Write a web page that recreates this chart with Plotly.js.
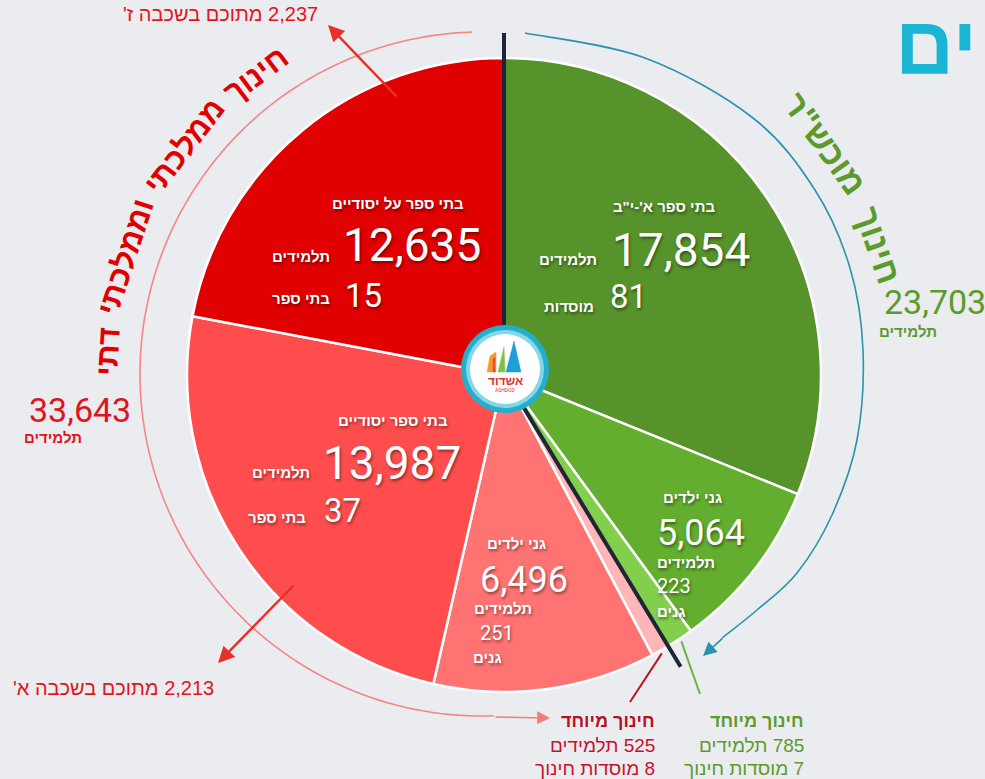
<!DOCTYPE html>
<html><head><meta charset="utf-8">
<script src="https://cdn.plot.ly/plotly-3.0.1.min.js"></script>
<style>html,body{margin:0;padding:0;background:#EBECF0;overflow:hidden}#chart{width:985px;height:779px}</style>
</head><body><div id="chart"></div>
<script>
// ---------------- DATA ----------------
const categories = ["בתי ספר א'-י\"ב", "גני ילדים", "חינוך מיוחד", "חינוך מיוחד", "גני ילדים", "בתי ספר יסודיים", "בתי ספר על יסודיים"];
const students = [17854, 5064, 785, 525, 6496, 13987, 12635];
const institutions = [81, 223, 7, 8, 251, 37, 15];
const institutionLabels = ["מוסדות", "גנים", "מוסדות חינוך", "מוסדות חינוך", "גנים", "בתי ספר", "בתי ספר"];
const sectorNames = ["חינוך מוכש\"ר", "חינוך ממלכתי וממלכתי דתי"];
const sectorMembers = [[0, 1, 2], [3, 4, 5, 6]];
const gradeCounts = [2237, 2213];
const gradeNames = ["ז'", "א'"];
const studentsWord = "תלמידים";

// ---------------- STYLE ----------------
const sliceColors = ["#56932A", "#63AD2F", "#82CF4C", "#FFB6B6", "#FF7373", "#FF4D4D", "#E00000"];
const W = 985, H = 779;
const X = p => p / W;
const Y = p => 1 - p / H;
const rtl = s => "\u202B" + s + "\u202C";
const fmt = n => n.toLocaleString("en-US");
const HEB = "'Liberation Sans', Arial, 'DejaVu Sans', sans-serif";
const NUM = "Roboto, 'Liberation Sans', sans-serif";
const SHADOW = "1px 2px 3px rgba(0,0,0,0.45)";
const RED = "#E2141B", GREEN = "#5B9B2B";
const CX = 504, CY = 375, R = 317;

const total = students.reduce((a, b) => a + b, 0);
const sectorTotals = sectorMembers.map(m => m.reduce((a, i) => a + students[i], 0));
const cumBefore = i => students.slice(0, i).reduce((a, b) => a + b, 0);
const midAngle = i => (cumBefore(i) + students[i] / 2) / total * 2 * Math.PI;
const polar = (t, r, cx = CX, cy = CY) => [cx + r * Math.sin(t), cy - r * Math.cos(t)];

const anns = [];
const shapes = [];
function txt(text, x, y, o) {
  o = o || {};
  anns.push({
    text: text, x: X(x), y: Y(y), xref: "paper", yref: "paper", showarrow: false,
    xanchor: o.anchor || "center", yanchor: "middle", textangle: o.angle || 0,
    font: { family: o.family || HEB, size: o.size || 15, color: o.color || "#fff",
      weight: o.weight || "normal", shadow: o.shadow || "none" }
  });
}
function arrow(hx, hy, tx, ty, color, width, size) {
  anns.push({ text: "", x: X(hx), y: Y(hy), xref: "paper", yref: "paper", showarrow: true,
    ax: tx - hx, ay: ty - hy, arrowcolor: color, arrowwidth: width, arrowhead: 2,
    arrowsize: size, standoff: 0, startstandoff: 0 });
}
function pline(pts, color, width, fill) {
  let d = pts.map((p, i) => (i ? "L" : "M") + X(p[0]) + "," + Y(p[1])).join(" ");
  if (fill) d += " Z";
  shapes.push({ type: "path", xref: "paper", yref: "paper", path: d,
    line: { color: color, width: width }, fillcolor: fill || "rgba(0,0,0,0)" });
}
function smooth(pts, color, width) {
  let d = "M" + X(pts[0][0]) + "," + Y(pts[0][1]);
  for (let i = 0; i < pts.length - 1; i++) {
    const p0 = pts[Math.max(i - 1, 0)], p1 = pts[i], p2 = pts[i + 1], p3 = pts[Math.min(i + 2, pts.length - 1)];
    const c1 = [p1[0] + (p2[0] - p0[0]) / 6, p1[1] + (p2[1] - p0[1]) / 6];
    const c2 = [p2[0] - (p3[0] - p1[0]) / 6, p2[1] - (p3[1] - p1[1]) / 6];
    d += " C" + X(c1[0]) + "," + Y(c1[1]) + " " + X(c2[0]) + "," + Y(c2[1]) + " " + X(p2[0]) + "," + Y(p2[1]);
  }
  shapes.push({ type: "path", xref: "paper", yref: "paper", path: d, line: { color: color, width: width } });
}
function circle(cx, cy, r, fill) {
  shapes.push({ type: "circle", xref: "paper", yref: "paper", x0: X(cx - r), x1: X(cx + r),
    y0: Y(cy + r), y1: Y(cy - r), fillcolor: fill, line: { width: 0 } });
}
function curved(text, cx, cy, r, startDeg, size, color, spaceScale) {
  const ctx = document.createElement("canvas").getContext("2d");
  ctx.font = "bold " + size + "px 'Liberation Sans', Arial, sans-serif";
  const space = ctx.measureText(" ").width * spaceScale;
  let t = startDeg * Math.PI / 180;
  text.split(" ").forEach(w => {
    const wd = ctx.measureText(w).width;
    const tc = t - (wd / 2) / r;
    const p = polar(tc, r, cx, cy);
    txt(w, p[0], p[1], { size: size, color: color, weight: "bold", angle: tc * 180 / Math.PI });
    t -= (wd + space) / r;
  });
}

// ---------------- DECORATIONS ----------------
// red arc (left) and its arrow
const redArc = [];
for (let k = 0; k <= 120; k++) {
  const t = (-1.7 + (-182 + 1.7) * k / 120) * Math.PI / 180;
  redArc.push(polar(t, 342, 482, 374));
}
pline(redArc, "#F88585", 1.6);
arrow(550, 718, redArc[redArc.length - 1][0], 717, "#F47C7C", 1.6, 1.6);

// teal arc (right) and its arrow
const tealPts = [[525, 33], [645, 58], [753, 118], [815, 190], [850, 268], [863, 350], [857, 440], [832, 515], [797, 573], [757, 610], [722, 638]];
smooth(tealPts, "#2A93AE", 1.6);
arrow(703, 656, 724, 637, "#2A93AE", 1.6, 1.7);

// leader lines for the small slices
const pinkStart = polar(midAngle(3), R + 3);
pline([pinkStart, [630, 702]], "#C0142A", 2);
const greenStart = polar(midAngle(2), R + 3);
pline([greenStart, [700, 694]], "#6DB33F", 2);

// navy divider between the two sectors
const split = sectorTotals[0] / total * 2 * Math.PI;
pline([[CX, 33], [CX, CY], polar(split, 341)], "#1F2436", 4);

// logo
const LX = 505, LY = 369;
circle(LX, LY, 44, "#24AECD");
circle(LX, LY, 39, "#86D6E5");
circle(LX, LY, 35, "#FFFFFF");
pline([[LX + 1, LY + 3], [LX + 16, LY + 3], [LX + 9, LY - 28]], "#1E9FD8", 0.5, "#1E9FD8");
pline([[LX - 7, LY + 3], [LX, LY + 3], [LX - 1, LY - 22]], "#7DC242", 0.5, "#7DC242");
pline([[LX - 18, LY + 3], [LX - 9, LY + 3], [LX - 9, LY - 17], [LX - 15, LY - 13]], "#F39C26", 0.5, "#F39C26");
pline([[LX - 12, LY + 3], [LX - 10, LY + 3], [LX - 10, LY - 12], [LX - 12, LY - 10]], "#E84B3C", 0.5, "#E84B3C");
txt("אשדוד", LX, LY + 12, { size: 12, color: "#E0312B", weight: "bold" });
txt("ASHDOD", LX, LY + 21, { size: 5, color: "#E0312B", family: NUM });

// ---------------- TEXTS ----------------
// partial title at the top right
txt("ים", 893, 45, { anchor: "left", size: 82, color: "#1AB5D5", weight: "bold" });

// curved sector names
curved(sectorNames[1], 482, 374, 375, -31.5, 31, "#E00000", 1.3);
curved(sectorNames[0], CX, CY, 396, 76.5, 34, GREEN, 1.8);

// sector totals
txt(fmt(sectorTotals[1]), 27, 410, { anchor: "left", size: 34, color: RED, family: NUM });
txt(studentsWord, 22, 437, { anchor: "left", size: 15, color: RED, weight: "bold" });
txt(fmt(sectorTotals[0]), 882, 302, { anchor: "left", size: 34, color: GREEN, family: NUM });
txt(studentsWord, 877, 331, { anchor: "left", size: 15, color: GREEN, weight: "bold" });

// grade notes
txt(rtl(fmt(gradeCounts[0]) + " מתוכם בשכבה " + gradeNames[0]), 220, 14, { size: 20, color: RED });
txt(rtl(fmt(gradeCounts[1]) + " מתוכם בשכבה " + gradeNames[1]), 113, 688, { size: 20, color: RED });
arrow(328, 25, 398, 98, "#E8302A", 2.5, 1.3);
arrow(218, 663, 295, 584, "#E8302A", 2.5, 1.3);

// slice labels: big slices with number beside the word
const wOpt = { size: 15, weight: "bold", shadow: SHADOW };
function sideBlock(i, t, numL, numY, labR, labY, instL, instY, instLabR, instLabY) {
  txt(categories[i], t[0], t[1], wOpt);
  txt(fmt(students[i]), numL, numY, { anchor: "left", size: 46, family: NUM, shadow: SHADOW });
  txt(studentsWord, labR, labY, Object.assign({ anchor: "right" }, wOpt));
  txt(String(institutions[i]), instL, instY, { anchor: "left", size: 33, family: NUM, shadow: SHADOW });
  txt(institutionLabels[i], instLabR, instLabY, Object.assign({ anchor: "right" }, wOpt));
}
sideBlock(0, [664, 207], 610, 250, 599, 259, 608, 297, 596, 306);
sideBlock(6, [398, 204], 341, 245, 332, 257, 343, 295, 332, 298);
sideBlock(5, [393, 420], 321, 463, 312, 472, 322, 510, 308, 517);

function stackBlock(i, t, numL, numY, labL, labY, instL, instY, instLabL, instLabY) {
  txt(categories[i], t[0], t[1], wOpt);
  txt(fmt(students[i]), numL, numY, { anchor: "left", size: 36, family: NUM, shadow: SHADOW });
  txt(studentsWord, labL, labY, Object.assign({ anchor: "left" }, wOpt));
  txt(String(institutions[i]), instL, instY, { anchor: "left", size: 20, family: NUM, shadow: SHADOW });
  txt(institutionLabels[i], instLabL, instLabY, Object.assign({ anchor: "left" }, wOpt));
}
stackBlock(1, [692, 497], 655, 533, 655, 562, 655, 586, 655, 611);
stackBlock(4, [516, 543], 478, 580, 472, 608, 478, 633, 471, 657);

// special education notes
function noteBlock(i, right, color, titleColor) {
  txt(categories[i], right, 721, { anchor: "right", size: 18, weight: "bold", color: titleColor });
  txt(rtl(fmt(students[i]) + " " + studentsWord), right, 745, { anchor: "right", size: 19, color: color });
  txt(rtl(institutions[i] + " " + institutionLabels[i]), right, 768, { anchor: "right", size: 19, color: color });
}
noteBlock(3, 657, "#C8102E", "#B8101E");
noteBlock(2, 806, GREEN, GREEN);

// ---------------- PLOT ----------------
const trace = {
  type: "pie",
  values: students,
  labels: categories.map((c, i) => c + " " + i),
  sort: false,
  direction: "clockwise",
  rotation: 0,
  textinfo: "none",
  hoverinfo: "none",
  marker: { colors: sliceColors, line: { color: "#FFFFFF", width: 2.5 } },
  domain: { x: [X(CX - R), X(CX + R)], y: [Y(CY + R), Y(CY - R)] }
};
const layout = {
  width: W, height: H,
  margin: { l: 0, r: 0, t: 0, b: 0 },
  paper_bgcolor: "#EBECF0",
  showlegend: false,
  shapes: shapes,
  annotations: anns
};
Plotly.newPlot("chart", [trace], layout, { staticPlot: true, displayModeBar: false });
</script>
</body></html>
